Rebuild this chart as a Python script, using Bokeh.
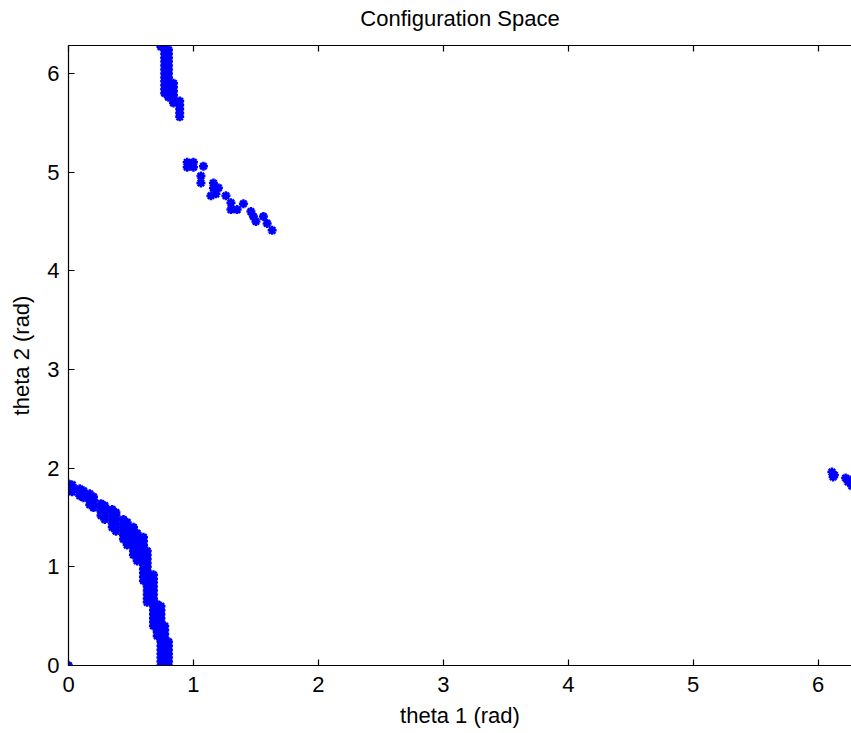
import math
from bokeh.plotting import figure
from bokeh.models import Range1d, LinearAxis, FixedTicker, CustomLabelingPolicy
from bokeh.embed import file_html
from bokeh.resources import INLINE

TITLE = "Configuration Space"
X_LABEL = "theta 1 (rad)"
Y_LABEL = "theta 2 (rad)"
TICKS = [0, 1, 2, 3, 4, 5, 6]

# Lower-left band: theta1 column positions and the theta2 values in each column
LOWER_T1 = [0.00, 0.03, 0.09, 0.12, 0.17, 0.20, 0.26, 0.29, 0.35, 0.38,
            0.44, 0.47, 0.52, 0.55, 0.60, 0.63, 0.68, 0.71, 0.74, 0.77, 0.80]
LOWER_T2 = [
    [1.77, 1.81, 1.84],
    [1.76, 1.80, 1.83],
    [1.72, 1.76, 1.79],
    [1.70, 1.74, 1.77],
    [1.63, 1.67, 1.71, 1.74],
    [1.60, 1.64, 1.68, 1.71],
    [1.52, 1.56, 1.60, 1.64],
    [1.48, 1.52, 1.56, 1.60, 1.62],
    [1.40, 1.44, 1.48, 1.52, 1.56, 1.58],
    [1.36, 1.40, 1.44, 1.48, 1.52, 1.55],
    [1.28, 1.32, 1.36, 1.40, 1.44, 1.48],
    [1.22, 1.26, 1.30, 1.34, 1.38, 1.42, 1.45],
    [1.12, 1.16, 1.20, 1.24, 1.28, 1.32, 1.36, 1.40],
    [1.06, 1.10, 1.14, 1.18, 1.22, 1.26, 1.30, 1.34],
    [0.86, 0.90, 0.94, 0.98, 1.02, 1.06, 1.10, 1.14, 1.18, 1.22, 1.26, 1.30],
    [0.64, 0.68, 0.72, 0.76, 0.80, 0.84, 0.88, 0.92, 0.96, 1.00, 1.04, 1.08, 1.12, 1.16],
    [0.40, 0.44, 0.48, 0.52, 0.56, 0.60, 0.64, 0.68, 0.72, 0.76, 0.80, 0.84, 0.88, 0.92],
    [0.30, 0.34, 0.38, 0.42, 0.46, 0.50, 0.54, 0.58, 0.62],
    [0.00, 0.04, 0.08, 0.12, 0.16, 0.20, 0.24, 0.28, 0.32, 0.36, 0.40, 0.44, 0.48, 0.52, 0.56, 0.60],
    [0.00, 0.04, 0.08, 0.12, 0.16, 0.20, 0.24, 0.28, 0.32, 0.36, 0.40],
    [0.00, 0.04, 0.08, 0.12, 0.16, 0.20, 0.24],
]

# Upper-left stripe
UPPER_T1 = [0.74, 0.77, 0.80, 0.84, 0.89]
UPPER_T2 = [
    [6.27],
    [5.80, 5.84, 5.88, 5.92, 5.96, 6.00, 6.04, 6.08, 6.12, 6.16, 6.20, 6.24, 6.28],
    [5.76, 5.80, 5.84, 5.88, 5.92, 5.96, 6.00, 6.04, 6.08, 6.12, 6.16, 6.20, 6.24],
    [5.70, 5.74, 5.78, 5.82, 5.86, 5.90],
    [5.56, 5.60, 5.64, 5.68, 5.72],
]

# Middle diagonal scatter
MID_T1 = [0.95, 0.95, 1.00, 1.00, 1.08, 1.06, 1.06, 1.16, 1.16, 1.18, 1.14, 1.20,
          1.26, 1.30, 1.30, 1.35, 1.40, 1.46, 1.48, 1.50, 1.56, 1.59, 1.63]
MID_T2 = [5.10, 5.05, 5.10, 5.05, 5.06, 4.96, 4.89, 4.89, 4.84, 4.78, 4.76, 4.84,
          4.76, 4.69, 4.62, 4.62, 4.68, 4.60, 4.55, 4.50, 4.55, 4.48, 4.41]

# Right-edge cluster
RIGHT_T1 = [6.11, 6.13, 6.12, 6.22, 6.24, 6.27, 6.26]
RIGHT_T2 = [1.96, 1.93, 1.91, 1.90, 1.86, 1.82, 1.88]

# Origin point
ORIGIN_T1 = [0.0]
ORIGIN_T2 = [0.0]


def flatten(t1s, cols):
    xs, ys = [], []
    for t1, col in zip(t1s, cols):
        xs += [t1] * len(col)
        ys += list(col)
    return xs, ys


lx, ly = flatten(LOWER_T1, LOWER_T2)
ux, uy = flatten(UPPER_T1, UPPER_T2)
xs = lx + ux + MID_T1 + RIGHT_T1 + ORIGIN_T1
ys = ly + uy + MID_T2 + RIGHT_T2 + ORIGIN_T2

FONT = "Liberation Sans"

p = figure(width=851, height=733,
           x_range=Range1d(0, 6.267), y_range=Range1d(0, 2 * math.pi),
           output_backend="svg", toolbar_location=None,
           min_border_left=68, min_border_right=0,
           min_border_top=45, min_border_bottom=68,
           x_axis_location=None, y_axis_location=None,
           title=TITLE)
p.background_fill_color = "white"
p.border_fill_color = "white"
p.outline_line_color = None
p.xgrid.visible = False
p.ygrid.visible = False

p.title.text_font = FONT
p.title.text_font_size = "22px"
p.title.text_font_style = "normal"
p.title.align = "center"
p.title.text_color = "black"
p.title.standoff = 0


def style_axis(ax):
    ax.ticker = FixedTicker(ticks=TICKS)
    ax.major_tick_in = 6
    ax.major_tick_out = 0
    ax.minor_tick_line_color = None
    ax.axis_line_color = "black"
    ax.axis_line_width = 1.2
    ax.major_tick_line_color = "black"
    ax.major_tick_line_width = 1.2
    ax.major_label_text_font = FONT
    ax.major_label_text_color = "black"
    ax.major_label_text_font_size = "22px"
    ax.axis_label_text_font = FONT
    ax.axis_label_text_font_size = "22px"
    ax.axis_label_text_font_style = "normal"
    ax.axis_label_text_color = "black"


xaxis = LinearAxis(axis_label=X_LABEL)
style_axis(xaxis)
xaxis.major_label_standoff = 11
xaxis.axis_label_standoff = 8
p.add_layout(xaxis, "below")

yaxis = LinearAxis(axis_label=Y_LABEL)
style_axis(yaxis)
yaxis.major_label_standoff = 9
yaxis.axis_label_standoff = 10
yaxis.major_label_orientation = "horizontal"
p.add_layout(yaxis, "left")

# top box edge with inward ticks, no labels drawn
topaxis = LinearAxis()
style_axis(topaxis)
topaxis.major_label_standoff = 11
topaxis.major_label_text_font_size = "1px"
topaxis.major_label_policy = CustomLabelingPolicy(
    code="for (let i = 0; i < indices.size; i++) { indices.unset(i) } return indices")
p.add_layout(topaxis, "above")

p.scatter(xs, ys, marker="asterisk", size=9, line_color="#0000FF", line_width=2.5)

open("out.html", "w").write(file_html(p, INLINE))
